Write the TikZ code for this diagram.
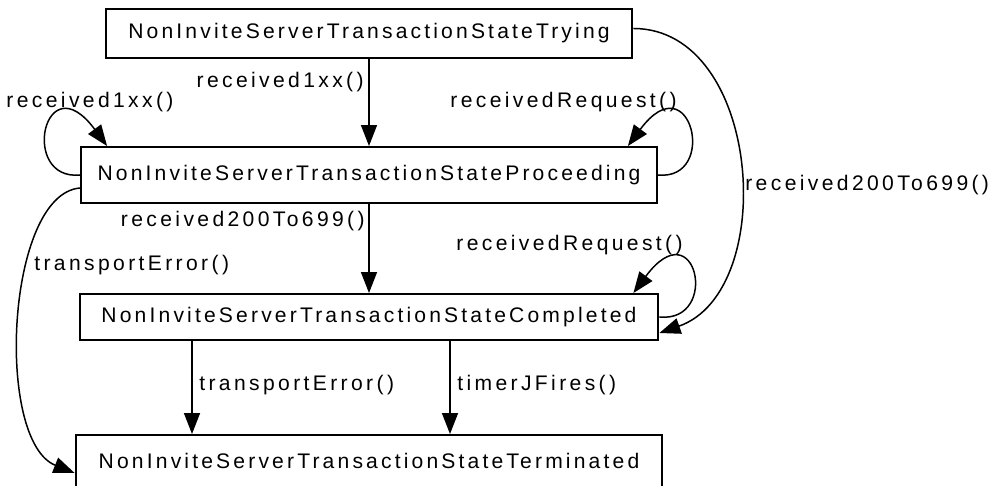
\documentclass[tikz,border=0pt]{standalone}
\usepackage{fontspec}
\setmainfont{Liberation Sans}[LetterSpace=15]
\newfontfamily\lblfont{Liberation Sans}[LetterSpace=16]
\usetikzlibrary{arrows.meta, calc}

\begin{document}
\begin{tikzpicture}[x=0.02cm, y=0.02cm,
  state/.style={draw, line width=1.1pt, inner sep=0pt, font=\fontsize{12}{14}\selectfont},
  trans/.style={line width=0.85pt, -{Triangle[length=0.42cm, width=0.32cm]}},
  lbl/.style={inner sep=0pt, font=\lblfont\fontsize{12}{14}\selectfont}]
\fill[white] (0,0) rectangle (998,486);
\useasboundingbox (0,0) rectangle (998,486);
% the four transaction states
\node[state, minimum width=10.54cm, minimum height=0.98cm] (trying) at (369,452.5) {NonInviteServerTransactionStateTrying};
\node[state, minimum width=11.52cm, minimum height=1.12cm] (proceeding) at (369,311) {NonInviteServerTransactionStateProceeding};
\node[state, minimum width=11.58cm, minimum height=0.92cm] (completed) at (369,169) {NonInviteServerTransactionStateCompleted};
\node[state, minimum width=11.74cm, minimum height=1.04cm] (terminated) at (369,25) {NonInviteServerTransactionStateTerminated};
% straight transitions
\draw[trans] (trying) -- (proceeding);
\draw[trans] (proceeding) -- (completed);
\draw[trans] ($(completed.south)+(-177,0)$) -- ($(terminated.north)+(-177,0)$);
\draw[trans] ($(completed.south)+(81,0)$) -- ($(terminated.north)+(81,0)$);
% self loops
\draw[trans] (proceeding.west) .. controls +(-61,-6) and +(-63,85) .. ($(proceeding.north west)+(27,0)$);
\draw[trans] (proceeding.east) .. controls +(61,-6) and +(63,85) .. ($(proceeding.north east)+(-30,0)$);
\draw[trans] (completed.east) .. controls +(61,-6) and +(63,85) .. ($(completed.north east)+(-26,0)$);
% long transitions round the side
\draw[trans] ($(trying.east)+(0,5)$) .. controls +(128,0) and +(120,42) .. ($(completed.east)+(0,-16)$);
\draw[trans] ($(proceeding.west)+(0,-13)$) .. controls +(-74,-6) and +(-80,32) .. ($(terminated.west)+(0,-12)$);
% event labels
\node[lbl, anchor=east] (lblA) at (364,404) {received1xx()};
\node[lbl] (lblB) at (90,384) {received1xx()};
\node[lbl, anchor=east] (lblC) at (677,384) {receivedRequest()};
\node[lbl, anchor=east] (lblD) at (365,265) {received200To699()};
\node[lbl, anchor=west] (lblE) at (34,221) {transportError()};
\node[lbl, anchor=east] (lblF) at (683,241) {receivedRequest()};
\node[lbl, anchor=west] (lblG) at (745,301) {received200To699()};
\node[lbl, anchor=west] (lblH) at (199,101) {transportError()};
\node[lbl, anchor=west] (lblI) at (457,101) {timerJFires()};
\end{tikzpicture}
\end{document}
